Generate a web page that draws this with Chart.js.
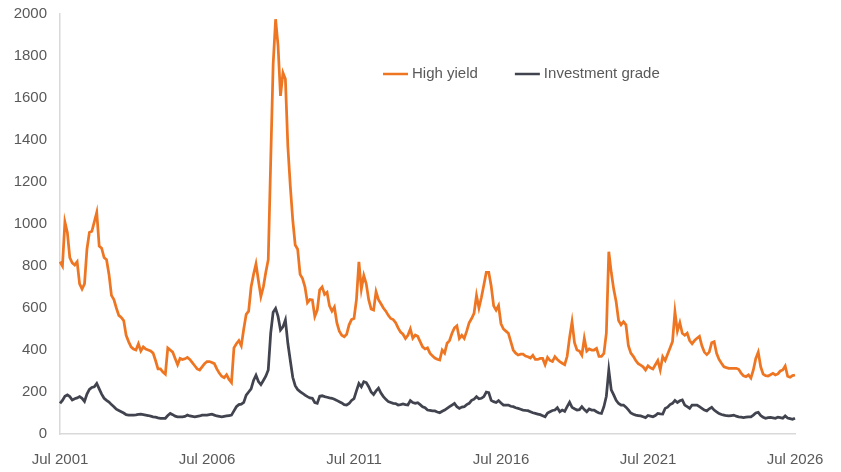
<!DOCTYPE html>
<html>
<head>
<meta charset="utf-8">
<script src="https://cdn.jsdelivr.net/npm/chart.js@4/dist/chart.umd.min.js"></script>
<style>
  html, body { margin: 0; padding: 0; background: #ffffff; }
  #wrap { width: 841px; height: 472px; position: relative; }
</style>
</head>
<body>
<div id="wrap"><canvas id="spreads"></canvas></div>
<script>
// Spread history, one value per month from Jul 2001
const monthNames = ['Jan', 'Feb', 'Mar', 'Apr', 'May', 'Jun', 'Jul', 'Aug', 'Sep', 'Oct', 'Nov', 'Dec'];
const firstYear = 2001;
const firstMonth = 6; // July

const highYield = [
  820, 800, 1010, 960, 840, 815, 805, 820, 715, 690, 715, 880,
  960, 965, 1010, 1055, 895, 885, 840, 830, 760, 660, 640, 600,
  565, 555, 540, 470, 440, 415, 405, 400, 430, 395, 415, 405,
  400, 395, 385, 350, 310, 310, 295, 285, 410, 400, 390, 360,
  330, 360, 355, 358, 365, 355, 340, 325, 310, 305, 320, 335,
  345, 345, 340, 335, 310, 290, 275, 268, 282, 260, 245, 410,
  430, 445, 420, 500, 570, 585, 700, 760, 810, 730, 655, 700,
  770, 830, 1300, 1760, 1975, 1850, 1610, 1720, 1690, 1370, 1180, 1020,
  900, 880, 760, 740, 700, 625, 640, 638, 560, 590, 686, 700,
  665, 675, 610, 585, 605, 530, 490, 470, 463, 475, 520, 545,
  550, 640, 820, 690, 755, 715, 640, 595, 590, 678, 640, 620,
  600, 585, 565, 550, 545, 530, 505, 485, 475, 455, 470, 500,
  456, 471, 465, 440, 415, 405, 410, 385, 372, 362, 356, 352,
  400, 385, 432, 445, 480, 505, 515, 455, 470, 455, 490, 530,
  550, 575, 660, 600, 650, 710, 770, 770, 705, 610, 590, 612,
  525, 500, 490, 480, 440, 400, 385, 376, 380, 380, 371, 368,
  362, 375, 355, 355, 360, 360, 330, 365, 350, 345, 368, 355,
  345, 337, 330, 370, 460, 535, 435, 400, 395, 375, 456, 395,
  405, 400, 400, 408, 370, 370, 384, 480, 868, 770, 690, 630,
  540, 520, 535, 520, 420, 385, 370, 350, 335, 328, 320, 305,
  325, 315, 310, 330, 350, 305, 368, 350, 380, 410, 440, 582,
  490, 530, 480, 470, 480, 445, 430, 445, 456, 465, 420, 390,
  378, 390, 435, 440, 384, 355, 337, 320, 316, 313, 313, 313,
  313, 308, 290, 277, 273, 281, 266, 305, 360, 390, 320, 285,
  278, 276, 282, 289, 281, 286, 300, 305, 324, 275, 270, 278,
  281
];

const investmentGrade = [
  146, 160, 180, 186, 178, 162, 168, 172, 178, 170, 155, 190,
  212, 222, 225, 241, 215, 190, 170, 160, 152, 140, 130, 118,
  112, 106, 100, 92, 90, 90, 90, 91, 93, 94, 92, 90,
  88, 85, 82, 80, 77, 75, 75, 75, 88, 98, 92, 85,
  82, 82, 82, 84, 90, 86, 84, 82, 84, 86, 90, 90,
  90, 92, 94, 90, 86, 84, 82, 84, 86, 88, 90, 110,
  130, 140, 142, 150, 185, 200, 215, 255, 280, 250, 235, 255,
  275, 305, 480, 580, 598, 560, 495, 510, 543, 432, 350, 270,
  230, 212, 202, 194, 185, 178, 172, 170, 150, 146, 180, 182,
  178, 175, 172, 170, 165, 160, 154, 148, 140, 138, 145, 160,
  168, 205, 241, 225, 249, 245, 225, 200, 188, 205, 218, 195,
  178, 165, 154, 150, 146, 145, 138, 140, 143, 140, 138, 159,
  150, 146, 149, 140, 130, 125, 114, 112, 110, 110, 105, 101,
  108, 114, 122, 130, 138, 146, 130, 122, 128, 130, 140, 146,
  160, 166, 178, 168, 170, 178, 200, 197, 160, 154, 150, 159,
  148, 138, 138, 138, 132, 130, 125, 122, 118, 114, 112, 111,
  106, 101, 98, 95, 92, 87, 82, 100, 106, 112, 114, 125,
  106, 114, 108, 130, 151, 127, 120, 114, 116, 130, 116, 106,
  119, 114, 114, 106, 100, 98, 130, 180, 305, 210, 186, 160,
  145, 138, 138, 128, 115, 100, 94, 90, 88, 86, 82, 78,
  88, 85, 82, 88, 98, 96, 95, 122, 128, 140, 146, 160,
  150, 158, 162, 138, 130, 122, 138, 138, 138, 130, 122, 114,
  110, 120, 127, 114, 105, 98, 93, 90, 87, 86, 88, 90,
  85, 82, 80, 78, 80, 82, 82, 90, 100, 103, 88, 80,
  75, 78, 79, 77, 75, 80, 78, 75, 86, 76, 73, 70,
  75
];

const yTicks = [0, 200, 400, 600, 800, 1000, 1200, 1400, 1600, 1800, 2000];
const labelEvery = 60; // one x label every five years

// month labels for the category axis
const months = highYield.map((v, i) => {
  const m = firstMonth + i;
  return monthNames[m % 12] + ' ' + (firstYear + Math.floor(m / 12));
});

const textColor = '#595959';
const axisColor = '#d9d9d9';
const fontSpec = { family: "'Liberation Sans', Arial, sans-serif", size: 15 };

// legend drawn inside the plot, like the original
const insideLegend = {
  id: 'insideLegend',
  afterDraw(chart, args, opts) {
    const ctx = chart.ctx;
    ctx.save();
    ctx.font = fontSpec.size + 'px ' + fontSpec.family;
    ctx.textBaseline = 'middle';
    ctx.textAlign = 'left';
    let x = opts.x;
    chart.data.datasets.forEach(ds => {
      ctx.strokeStyle = ds.borderColor;
      ctx.lineWidth = 2.5;
      ctx.beginPath();
      ctx.moveTo(x, opts.y);
      ctx.lineTo(x + opts.lineLen, opts.y);
      ctx.stroke();
      ctx.fillStyle = textColor;
      ctx.fillText(ds.label, x + opts.lineLen + 4, opts.y);
      x += opts.lineLen + 4 + ctx.measureText(ds.label).width + opts.gap;
    });
    ctx.restore();
  }
};

const ctx = document.getElementById('spreads').getContext('2d');
new Chart(ctx, {
  type: 'line',
  data: {
    labels: months,
    datasets: [
      {
        label: 'High yield',
        data: highYield,
        borderColor: '#ee7623',
        borderWidth: 2.75,
        pointRadius: 0,
        tension: 0,
        fill: false
      },
      {
        label: 'Investment grade',
        data: investmentGrade,
        borderColor: '#41444f',
        borderWidth: 2.75,
        pointRadius: 0,
        tension: 0,
        fill: false
      }
    ]
  },
  options: {
    responsive: true,
    maintainAspectRatio: false,
    animation: false,
    layout: { padding: { top: 14, right: 46, bottom: 0, left: 0 } },
    plugins: {
      legend: { display: false },
      tooltip: { enabled: false },
      insideLegend: { x: 383, y: 74, lineLen: 25, gap: 37 }
    },
    scales: {
      x: {
        grid: { display: false },
        border: { display: true, color: axisColor, width: 1.5 },
        ticks: {
          autoSkip: false,
          maxRotation: 0,
          minRotation: 0,
          padding: 9,
          color: textColor,
          font: fontSpec,
          callback: function (value, index) {
            return index % labelEvery === 0 ? this.getLabelForValue(value) : null;
          }
        },
        afterFit: scale => { scale.height = 38; }
      },
      y: {
        min: 0,
        max: 2000,
        grid: { display: false },
        border: { display: true, color: axisColor, width: 1.5 },
        afterBuildTicks: scale => { scale.ticks = yTicks.map(v => ({ value: v })); },
        ticks: {
          padding: 5,
          color: textColor,
          font: fontSpec,
          callback: value => String(value)
        },
        afterFit: scale => { scale.width = 60; }
      }
    }
  },
  plugins: [insideLegend]
});
</script>
</body>
</html>
